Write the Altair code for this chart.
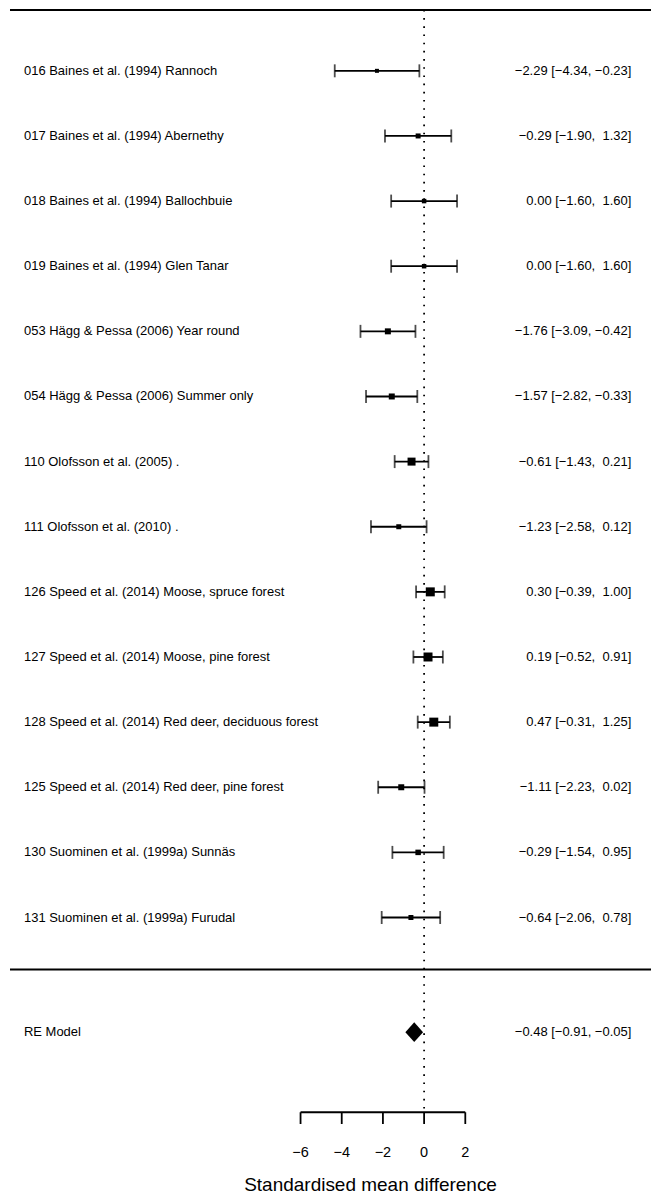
import altair as alt
import pandas as pd

# ---- data ----
study_labels = [
    "016 Baines et al. (1994) Rannoch",
    "017 Baines et al. (1994) Abernethy",
    "018 Baines et al. (1994) Ballochbuie",
    "019 Baines et al. (1994) Glen Tanar",
    "053 Hägg & Pessa (2006) Year round",
    "054 Hägg & Pessa (2006) Summer only",
    "110 Olofsson et al. (2005) .",
    "111 Olofsson et al. (2010) .",
    "126 Speed et al. (2014) Moose, spruce forest",
    "127 Speed et al. (2014) Moose, pine forest",
    "128 Speed et al. (2014) Red deer, deciduous forest",
    "125 Speed et al. (2014) Red deer, pine forest",
    "130 Suominen et al. (1999a) Sunnäs",
    "131 Suominen et al. (1999a) Furudal",
]
est = [-2.29, -0.29, 0.00, 0.00, -1.76, -1.57, -0.61, -1.23, 0.30, 0.19, 0.47, -1.11, -0.29, -0.64]
ci_lb = [-4.34, -1.90, -1.60, -1.60, -3.09, -2.82, -1.43, -2.58, -0.39, -0.52, -0.31, -2.23, -1.54, -2.06]
ci_ub = [-0.23, 1.32, 1.60, 1.60, -0.42, -0.33, 0.21, 0.12, 1.00, 0.91, 1.25, 0.02, 0.95, 0.78]
# square side (px) reflecting study weight
box_side = [4, 5, 4.5, 4.5, 6, 6, 8, 5, 9, 9, 9, 6, 5.5, 5]

re_label = "RE Model"
re_est, re_lb, re_ub = -0.48, -0.91, -0.05

tick_values = [-6, -4, -2, 0, 2]
x_title = "Standardised mean difference"

# ---- layout constants (scale units) ----
W, H = 644, 1186
X_DOMAIN = [-20.206, 11.018]
Y_DOMAIN = [0.0495, 18.231]
ROW_RE = 15.76
Y_TOP = 0.065
Y_SEP = 14.80
Y_AXIS = 16.99
Y_TICK_END = 17.17
Y_TICKLAB = 17.68
Y_TITLE = 18.20
X_LEFT_TEXT = -19.43
X_RIGHT_TEXT = 10.06
X_TITLE = -2.6
DIAMOND_HALF = 0.153
FONT = "Liberation Sans"
LW = 1.8

MINUS = "\u2212"


def fmt(v, pad):
    s = f"{abs(v):.2f}"
    if v < 0:
        return MINUS + s
    return ("\u00a0" if pad else "") + s


def ci_text(e, l, u):
    return f"{fmt(e, False)} [{fmt(l, False)}, {fmt(u, True)}]"


rows = list(range(1, len(study_labels) + 1))
df = pd.DataFrame({
    "row": rows,
    "label": study_labels,
    "est": est,
    "lb": ci_lb,
    "ub": ci_ub,
    "side": box_side,
})
df["txt"] = [ci_text(e, l, u) for e, l, u in zip(est, ci_lb, ci_ub)]
df["area"] = df["side"] ** 2
df["lx"] = X_LEFT_TEXT
df["rx"] = X_RIGHT_TEXT

xs = alt.Scale(domain=X_DOMAIN, nice=False, zero=False)
ys = alt.Scale(domain=Y_DOMAIN, nice=False, zero=False, reverse=True)

X = lambda f: alt.X(f, type="quantitative", scale=xs, axis=None)
Y = lambda f: alt.Y(f, type="quantitative", scale=ys, axis=None)

base = alt.Chart(df)

whisk = base.mark_rule(color="black", strokeWidth=LW).encode(
    x=X("lb"), x2="ub", y=Y("row"))
cap_l = base.mark_tick(color="black", orient="vertical", size=13, thickness=LW).encode(
    x=X("lb"), y=Y("row"))
cap_u = base.mark_tick(color="black", orient="vertical", size=13, thickness=LW).encode(
    x=X("ub"), y=Y("row"))
squares = base.mark_square(color="black", filled=True, opacity=1).encode(
    x=X("est"), y=Y("row"), size=alt.Size("area:Q", scale=None, legend=None))
left_txt = base.mark_text(align="left", baseline="middle", font=FONT, fontSize=13, color="black").encode(
    x=X("lx"), y=Y("row"), text="label:N")
right_txt = base.mark_text(align="right", baseline="middle", font=FONT, fontSize=13, color="black").encode(
    x=X("rx"), y=Y("row"), text="txt:N")

# RE model
re_df = pd.DataFrame({"row": [ROW_RE], "label": [re_label], "txt": [ci_text(re_est, re_lb, re_ub)],
                      "lx": [X_LEFT_TEXT], "rx": [X_RIGHT_TEXT]})
re_left = alt.Chart(re_df).mark_text(align="left", baseline="middle", font=FONT, fontSize=13, color="black").encode(
    x=X("lx"), y=Y("row"), text="label:N")
re_right = alt.Chart(re_df).mark_text(align="right", baseline="middle", font=FONT, fontSize=13, color="black").encode(
    x=X("rx"), y=Y("row"), text="txt:N")
dia_df = pd.DataFrame({"x": [re_lb, re_est, re_ub], "k": [0, 1, 0]})
diamond = alt.Chart(dia_df).mark_area(color="black", opacity=1, orient="vertical").transform_calculate(
    yt=f"{ROW_RE} - datum.k * {DIAMOND_HALF}",
    yb=f"{ROW_RE} + datum.k * {DIAMOND_HALF}",
).encode(x=X("x"), y=Y("yt"), y2="yb")

# reference line at 0
ref_df = pd.DataFrame({"x": [0], "y1": [Y_TOP], "y2": [Y_AXIS]})
refline = alt.Chart(ref_df).mark_rule(color="black", strokeWidth=1.8, strokeDash=[1.6, 6.6]).encode(
    x=X("x"), y=Y("y1"), y2="y2")

# horizontal lines
hl_df = pd.DataFrame({"y": [Y_TOP, Y_SEP]})
hlines = alt.Chart(hl_df).mark_rule(color="black", strokeWidth=2).encode(
    x=alt.value(2), x2=alt.value(W), y=Y("y"))

# axis
ax_df = pd.DataFrame({"x1": [min(tick_values)], "x2": [max(tick_values)], "y": [Y_AXIS]})
axline = alt.Chart(ax_df).mark_rule(color="black", strokeWidth=LW).encode(
    x=X("x1"), x2="x2", y=Y("y"))
tk_df = pd.DataFrame({"t": tick_values, "y1": [Y_AXIS] * len(tick_values), "y2": [Y_TICK_END] * len(tick_values),
                      "ly": [Y_TICKLAB] * len(tick_values)})
tk_df["lab"] = [(MINUS + str(abs(t))) if t < 0 else str(t) for t in tick_values]
ticks = alt.Chart(tk_df).mark_rule(color="black", strokeWidth=LW).encode(
    x=X("t"), y=Y("y1"), y2="y2")
ticklabs = alt.Chart(tk_df).mark_text(align="center", baseline="alphabetic", font=FONT, fontSize=14.5, color="black").encode(
    x=X("t"), y=Y("ly"), text="lab:N")
title_df = pd.DataFrame({"x": [X_TITLE], "y": [Y_TITLE], "t": [x_title]})
title = alt.Chart(title_df).mark_text(align="center", baseline="alphabetic", font=FONT, fontSize=19, color="black").encode(
    x=X("x"), y=Y("y"), text="t:N")

chart = alt.layer(
    hlines, refline, whisk, cap_l, cap_u, squares, left_txt, right_txt,
    diamond, re_left, re_right, axline, ticks, ticklabs, title
).properties(width=W, height=H, padding=0, background="white").configure_view(stroke=None)

chart.save("out.html", embed_options={"renderer": "svg", "actions": False})
